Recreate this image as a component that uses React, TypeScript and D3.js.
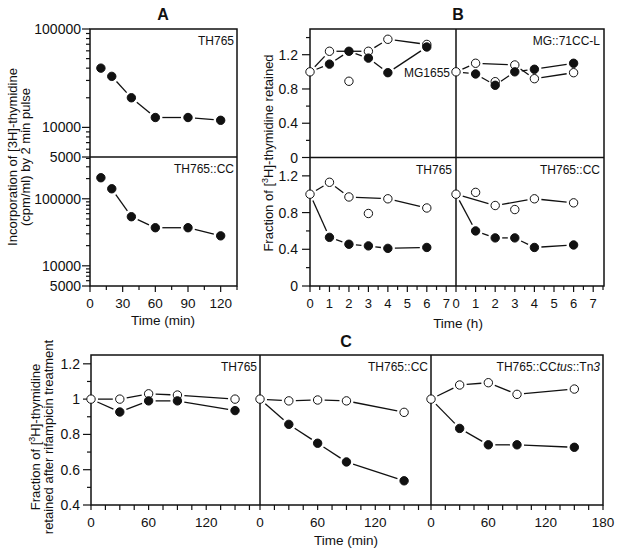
import React from "react";
import * as d3 from "d3";

const FONT = "'Liberation Sans', Arial, Helvetica, sans-serif";

// ---------- Panel A data ----------
const aTimes = [10, 20, 38, 60, 90, 120];
const aTH765 = [40000, 33000, 20000, 12600, 12600, 11800];
const aTH765CC = [206000, 141000, 54000, 37000, 37000, 28000];
const aXTicks = [0, 30, 60, 90, 120];
const aYLabelled = [5000, 10000, 100000];

// ---------- Panel B data ----------
const bTimes = [0, 1, 2, 3, 4, 6];
const bXTicks = [0, 1, 2, 3, 4, 5, 6, 7];
const bYTicks = [0, 0.4, 0.8, 1.2];
const bMG1655Filled = [1.0, 1.09, 1.24, 1.16, 0.99, 1.29];
const bMG1655Open = [1.0, 1.24, 0.89, 1.24, 1.38, 1.32];
const bMG1655OpenLinked = [true, true, false, true, true, true];
const bMG71Filled = [1.0, 0.975, 0.843, 1.0, 1.03, 1.1];
const bMG71Open = [1.0, 1.1, 0.885, 1.08, 0.92, 0.99];
const bMG71OpenLinked = [true, true, false, true, true, true];
const bTH765Filled = [1.0, 0.53, 0.455, 0.437, 0.41, 0.42];
const bTH765Open = [1.0, 1.13, 0.97, 0.79, 0.95, 0.85];
const bTH765OpenLinked = [true, true, true, false, true, true];
const bTH765CCFilled = [1.0, 0.6, 0.524, 0.524, 0.42, 0.447];
const bTH765CCOpen = [1.0, 1.02, 0.877, 0.833, 0.95, 0.906];
const bTH765CCOpenLinked = [true, false, true, false, true, true];

// ---------- Panel C data ----------
const cTimes = [0, 30, 60, 90, 150];
const cYTicks = [0.4, 0.6, 0.8, 1, 1.2];
const cTH765Open = [1.0, 1.0, 1.03, 1.023, 1.0];
const cTH765Filled = [1.0, 0.927, 0.99, 0.99, 0.935];
const cCCOpen = [1.0, 0.99, 0.995, 0.99, 0.925];
const cCCFilled = [1.0, 0.857, 0.75, 0.644, 0.537];
const cTusOpen = [1.0, 1.08, 1.093, 1.027, 1.057];
const cTusFilled = [1.0, 0.834, 0.741, 0.741, 0.727];

type Sc = (v: number) => number;

function gapSegments(pts: number[][], gap: number) {
  const out: number[][] = [];
  for (let i = 0; i < pts.length - 1; i++) {
    const [x1, y1] = pts[i];
    const [x2, y2] = pts[i + 1];
    const dx = x2 - x1, dy = y2 - y1;
    const d = Math.hypot(dx, dy);
    if (d < 2 * gap + 3) continue;
    const ux = dx / d, uy = dy / d;
    out.push([x1 + ux * gap, y1 + uy * gap, x2 - ux * gap, y2 - uy * gap]);
  }
  return out;
}

function Series(props: {
  x: Sc; y: Sc; times: number[]; values: number[]; filled: boolean;
  linked?: boolean[]; skipFirst?: boolean;
}) {
  const { x, y, times, values, filled, linked, skipFirst } = props;
  const pts = times.map((t, i) => [x(t), y(values[i])]);
  const linePts = pts.filter((_, i) => !linked || linked[i]);
  const segs = gapSegments(linePts, 7);
  return (
    <g>
      {segs.map((s, i) => (
        <line key={"s" + i} x1={s[0]} y1={s[1]} x2={s[2]} y2={s[3]} stroke="#111" strokeWidth={1.3} />
      ))}
      {pts.map((p, i) =>
        skipFirst && i === 0 ? null : (
          <circle key={"c" + i} cx={p[0]} cy={p[1]} r={4.2}
            fill={filled ? "#111" : "#fff"} stroke="#111" strokeWidth={1} />
        )
      )}
    </g>
  );
}

function logTicks(lo: number, hi: number) {
  const out: number[] = [];
  for (let k = Math.floor(Math.log10(lo)); k <= Math.ceil(Math.log10(hi)); k++)
    for (let m = 1; m <= 9; m++) {
      const v = m * Math.pow(10, k);
      if (v >= lo * 0.999 && v <= hi * 1.001) out.push(v);
    }
  return out;
}

function YTicks(props: { x0: number; y: Sc; values: number[]; labelled: number[]; fmt?: (v: number) => string; fontSize?: number; pad?: number }) {
  const { x0, y, values, labelled, fmt, fontSize } = props;
  const pad = props.pad ?? 10;
  return (
    <g>
      {values.map((v, i) => {
        const isL = labelled.some((l) => Math.abs(l - v) < 1e-9 * Math.max(1, Math.abs(l)));
        return (
          <line key={"t" + i} x1={x0 - (isL ? 8 : 4)} x2={x0} y1={y(v)} y2={y(v)} stroke="#111" strokeWidth={1.2} />
        );
      })}
      {labelled.map((v, i) => (
        <text key={"l" + i} x={x0 - pad} y={y(v)} dy="0.36em" textAnchor="end"
          fontSize={fontSize || 14} fontFamily={FONT} fill="#111">
          {fmt ? fmt(v) : String(v)}
        </text>
      ))}
    </g>
  );
}

function XTicks(props: { y0: number; x: Sc; values: number[]; labelled: number[]; majorLen?: number; minorLen?: number; labelY: number; fontSize?: number }) {
  const { y0, x, values, labelled, labelY } = props;
  const maj = props.majorLen ?? 6, min = props.minorLen ?? 4;
  return (
    <g>
      {values.map((v, i) => {
        const isL = labelled.includes(v);
        return <line key={"t" + i} x1={x(v)} x2={x(v)} y1={y0} y2={y0 + (isL ? maj : min)} stroke="#111" strokeWidth={1.2} />;
      })}
      {labelled.map((v, i) => (
        <text key={"l" + i} x={x(v)} y={labelY} textAnchor="middle" fontSize={props.fontSize || 13.5} fontFamily={FONT} fill="#111">
          {String(v)}
        </text>
      ))}
    </g>
  );
}

function rangeStep(a: number, b: number, s: number) {
  const out: number[] = [];
  for (let v = a; v <= b + 1e-9; v += s) out.push(Math.round(v * 1000) / 1000);
  return out;
}

export default function App() {
  // ----- Panel A scales -----
  const axL = 90, axR = 237, ayT = 29, ayM = 157, ayB = 286;
  const xA = d3.scaleLinear().domain([0, 135]).range([axL, axR]);
  const yAt = d3.scaleLog().domain([5000, 100000]).range([ayM, ayT]);
  const yAb = d3.scaleLog().domain([5000, 420000]).range([ayB, ayM]);

  // ----- Panel B scales -----
  const bxL = 310, bxM = 456, bxR = 604, byT = 29, byM = 157.5, byB = 286;
  const xBL = d3.scaleLinear().domain([0, 7.5]).range([bxL, bxM]);
  const xBR = d3.scaleLinear().domain([0, 7.5]).range([bxM, bxR - 1]);
  const yBt = d3.scaleLinear().domain([0, 1.5]).range([byM, byT]);
  const yBb = d3.scaleLinear().domain([0, 1.4]).range([byB, byM]);

  // ----- Panel C scales -----
  const cx0 = 91, cx1 = 260, cx2 = 431, cx3 = 603, cyT = 355, cyB = 505;
  const xC1 = d3.scaleLinear().domain([0, 176]).range([cx0, cx1]);
  const xC2 = d3.scaleLinear().domain([0, 178]).range([cx1, cx2]);
  const xC3 = d3.scaleLinear().domain([0, 180]).range([cx2, cx3]);
  const yC = d3.scaleLinear().domain([0.4, 1.25]).range([cyB, cyT]);

  const txt = { fontFamily: FONT, fill: "#111" } as const;
  const frame = { fill: "none", stroke: "#111", strokeWidth: 1.5 } as const;

  const bFmt = (v: number) => (v === 0 ? "0" : v.toFixed(1));
  const cFmt = (v: number) => (v === 1 ? "1" : v.toFixed(1));

  return (
    <svg width={618} height={552} style={{ position: "absolute", left: 0, top: 0, background: "#fff" }}>
      <rect x={0} y={0} width={618} height={552} fill="#fff" />

      {/* ================= Panel A ================= */}
      <text x={163} y={20} textAnchor="middle" fontSize={16} fontWeight="bold" {...txt}>A</text>
      <rect x={axL} y={ayT} width={axR - axL} height={ayB - ayT} {...frame} />
      <line x1={axL} x2={axR} y1={ayM} y2={ayM} stroke="#111" strokeWidth={1.5} />
      <YTicks x0={axL} y={yAt} values={logTicks(5000, 100000)} labelled={aYLabelled} fontSize={14} pad={9} />
      <YTicks x0={axL} y={yAb} values={logTicks(5000, 420000)} labelled={aYLabelled} fontSize={14} pad={9} />
      <XTicks y0={ayB} x={xA} values={rangeStep(0, 135, 15)} labelled={aXTicks} labelY={308} />
      <text x={163} y={325} textAnchor="middle" fontSize={13.5} {...txt}>Time (min)</text>
      <text transform="translate(16.5,157) rotate(-90)" textAnchor="middle" fontSize={13} {...txt}>
        Incorporation of [3H]-thymidine
      </text>
      <text transform="translate(29.5,157) rotate(-90)" textAnchor="middle" fontSize={13} {...txt}>
        (cpm/ml) by 2 min pulse
      </text>
      <Series x={xA} y={yAt} times={aTimes} values={aTH765} filled={true} />
      <Series x={xA} y={yAb} times={aTimes} values={aTH765CC} filled={true} />
      <text x={234} y={45} textAnchor="end" fontSize={12} {...txt}>TH765</text>
      <text x={234} y={173} textAnchor="end" fontSize={12} {...txt}>TH765::CC</text>

      {/* ================= Panel B ================= */}
      <text x={458} y={20} textAnchor="middle" fontSize={16} fontWeight="bold" {...txt}>B</text>
      <rect x={bxL} y={byT} width={bxR - bxL} height={byB - byT} {...frame} />
      <line x1={bxL} x2={bxR} y1={byM} y2={byM} stroke="#111" strokeWidth={1.5} />
      <line x1={bxM} x2={bxM} y1={byT} y2={byB} stroke="#111" strokeWidth={1.5} />
      <YTicks x0={bxL} y={yBt} values={rangeStep(0, 1.4, 0.2)} labelled={bYTicks} fmt={bFmt} pad={12} />
      <YTicks x0={bxL} y={yBb} values={rangeStep(0, 1.2, 0.2)} labelled={bYTicks} fmt={bFmt} pad={12} />
      <XTicks y0={byB} x={xBL} values={rangeStep(0, 7, 0.5)} labelled={bXTicks} labelY={308} majorLen={6} minorLen={4} fontSize={13} />
      <XTicks y0={byB} x={xBR} values={rangeStep(0, 7.5, 0.5)} labelled={bXTicks} labelY={308} majorLen={6} minorLen={4} fontSize={13} />
      <text x={458} y={328} textAnchor="middle" fontSize={13.5} {...txt}>Time (h)</text>
      <text transform="translate(273,153) rotate(-90)" textAnchor="middle" fontSize={13} {...txt}>
        Fraction of [<tspan fontSize={9} dy={-5}>3</tspan><tspan dy={5}>H]-thymidine retained</tspan>
      </text>

      <Series x={xBL} y={yBt} times={bTimes} values={bMG1655Open} filled={false} linked={bMG1655OpenLinked} />
      <Series x={xBL} y={yBt} times={bTimes} values={bMG1655Filled} filled={true} skipFirst />
      <Series x={xBR} y={yBt} times={bTimes} values={bMG71Open} filled={false} linked={bMG71OpenLinked} />
      <Series x={xBR} y={yBt} times={bTimes} values={bMG71Filled} filled={true} skipFirst />
      <Series x={xBL} y={yBb} times={bTimes} values={bTH765Open} filled={false} linked={bTH765OpenLinked} />
      <Series x={xBL} y={yBb} times={bTimes} values={bTH765Filled} filled={true} skipFirst />
      <Series x={xBR} y={yBb} times={bTimes} values={bTH765CCOpen} filled={false} linked={bTH765CCOpenLinked} />
      <Series x={xBR} y={yBb} times={bTimes} values={bTH765CCFilled} filled={true} skipFirst />

      <text x={600} y={45} textAnchor="end" fontSize={12} {...txt}>MG::71CC-L</text>
      <text x={450} y={77} textAnchor="end" fontSize={12} {...txt}>MG1655</text>
      <text x={452} y={174} textAnchor="end" fontSize={12} {...txt}>TH765</text>
      <text x={600} y={174} textAnchor="end" fontSize={12} {...txt}>TH765::CC</text>

      {/* ================= Panel C ================= */}
      <text x={346} y={347} textAnchor="middle" fontSize={16} fontWeight="bold" {...txt}>C</text>
      <rect x={cx0} y={cyT} width={cx3 - cx0} height={cyB - cyT} {...frame} />
      <line x1={cx1} x2={cx1} y1={cyT} y2={cyB} stroke="#111" strokeWidth={1.5} />
      <line x1={cx2} x2={cx2} y1={cyT} y2={cyB} stroke="#111" strokeWidth={1.5} />
      <YTicks x0={cx0} y={yC} values={rangeStep(0.4, 1.2, 0.1)} labelled={cYTicks} fmt={cFmt} pad={11} />
      <XTicks y0={cyB} x={xC1} values={rangeStep(0, 165, 15)} labelled={[0, 60, 120]} labelY={527} majorLen={5} minorLen={5} />
      <XTicks y0={cyB} x={xC2} values={rangeStep(0, 165, 15)} labelled={[0, 60, 120]} labelY={527} majorLen={5} minorLen={5} />
      <XTicks y0={cyB} x={xC3} values={rangeStep(0, 180, 15)} labelled={[0, 60, 120, 180]} labelY={527} majorLen={5} minorLen={5} />
      <text x={346} y={545} textAnchor="middle" fontSize={13.5} {...txt}>Time (min)</text>
      <text transform="translate(40,437) rotate(-90)" textAnchor="middle" fontSize={13} {...txt}>
        Fraction of [<tspan fontSize={9} dy={-5}>3</tspan><tspan dy={5}>H]-thymidine</tspan>
      </text>
      <text transform="translate(53,437) rotate(-90)" textAnchor="middle" fontSize={13} {...txt}>
        retained after rifampicin treatment
      </text>

      <Series x={xC1} y={yC} times={cTimes} values={cTH765Open} filled={false} />
      <Series x={xC1} y={yC} times={cTimes} values={cTH765Filled} filled={true} skipFirst />
      <Series x={xC2} y={yC} times={cTimes} values={cCCOpen} filled={false} />
      <Series x={xC2} y={yC} times={cTimes} values={cCCFilled} filled={true} skipFirst />
      <Series x={xC3} y={yC} times={cTimes} values={cTusOpen} filled={false} />
      <Series x={xC3} y={yC} times={cTimes} values={cTusFilled} filled={true} skipFirst />

      <text x={257} y={371} textAnchor="end" fontSize={12} {...txt}>TH765</text>
      <text x={428} y={371} textAnchor="end" fontSize={12} {...txt}>TH765::CC</text>
      <text x={600} y={371} textAnchor="end" fontSize={12} {...txt}>
        TH765::CC<tspan fontStyle="italic">tus</tspan>::Tn<tspan fontStyle="italic">3</tspan>
      </text>
    </svg>
  );
}
